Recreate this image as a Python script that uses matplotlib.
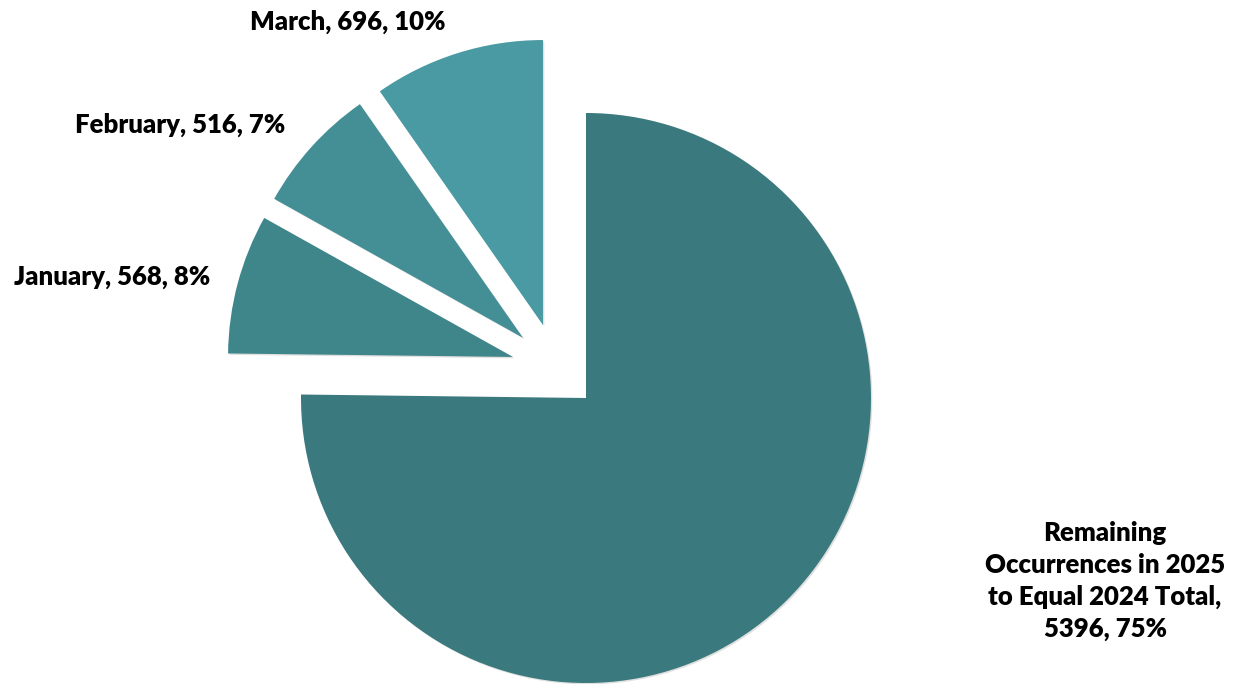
import textwrap
import matplotlib.pyplot as plt
import matplotlib.patheffects as pe

# data
categories = ['Remaining Occurrences in 2025 to Equal 2024 Total', 'January', 'February', 'March']
values = [5396, 568, 516, 696]
colors = ['#3A797E', '#3F868B', '#448F96', '#4A9AA3']

# per-slice offsets (in radius units) for the pulled-out months
offsets = [(0, 0), (-0.256, 0.144), (-0.221, 0.211), (-0.151, 0.256)]
label_pos = [(1105, 103), (112, 407), (180, 559), (348, 662)]

W, H = 1246, 684
fig = plt.figure(figsize=(W / 100, H / 100), dpi=100)
ax = fig.add_axes([0, 0, 1, 1])

cx, cy, r = 586, 286, 285
wedges, _ = ax.pie(values, colors=colors, startangle=90, counterclock=False,
                   center=(cx, cy), radius=r, frame=True,
                   wedgeprops=dict(linewidth=0))
ax.set_xlim(0, W)
ax.set_ylim(0, H)
ax.set_aspect('equal')
ax.axis('off')

shadow = [pe.SimplePatchShadow(offset=(1, -1), shadow_rgbFace='black', alpha=0.12),
          pe.Normal()]
for w, (dx, dy) in zip(wedges, offsets):
    w.set_center((cx + dx * r, cy + dy * r))
    w.set_path_effects(shadow)

total = sum(values)
for name, v, (x, y) in zip(categories, values, label_pos):
    pct = round(v / total * 100)
    txt = textwrap.fill(f'{name}, {v}, {pct}%', width=20)
    ax.text(x, y, txt, ha='center', va='center', multialignment='center',
            fontsize=18.5, fontweight='heavy', family='Lato', linespacing=1.4)

fig.savefig('out.png', dpi=100)
